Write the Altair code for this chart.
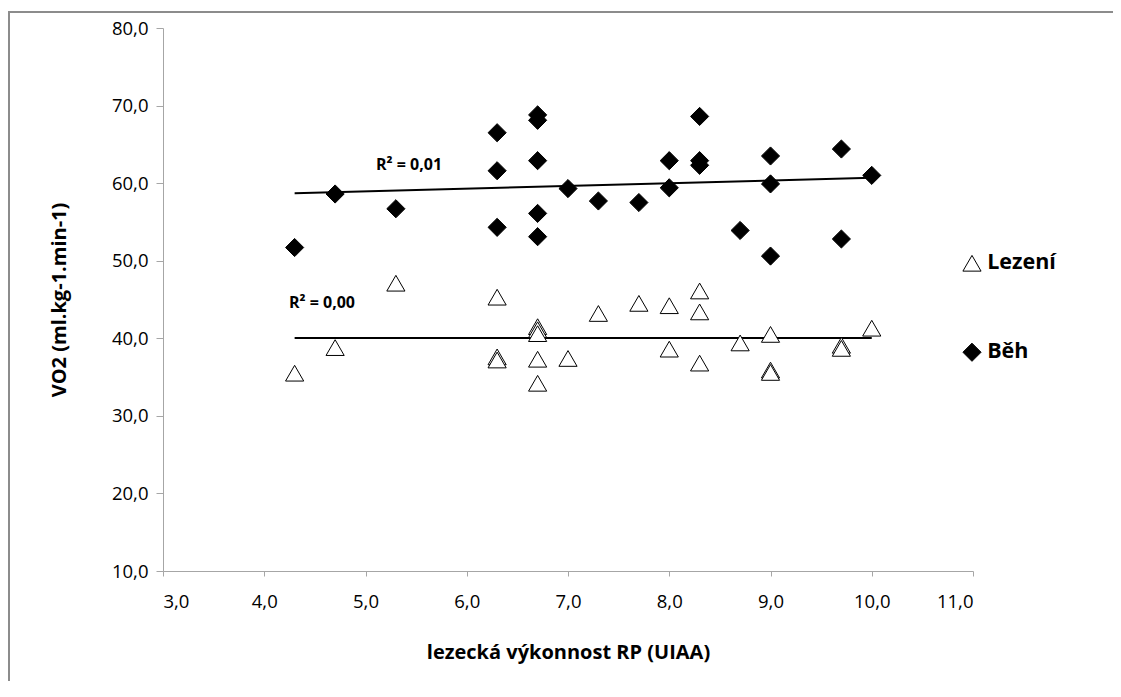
import altair as alt
import pandas as pd

# Běh (running) – filled diamonds
run_x = [4.3, 4.7, 5.3, 6.3, 6.3, 6.3, 6.7, 6.7, 6.7, 6.7, 6.7, 7.0, 7.3,
         7.7, 8.0, 8.0, 8.3, 8.3, 8.3, 8.7, 9.0, 9.0, 9.0, 9.7, 9.7, 10.0]
run_y = [51.7, 58.6, 56.7, 66.5, 61.6, 54.3, 68.8, 68.1, 62.9, 56.1, 53.1, 59.3, 57.7,
         57.5, 62.9, 59.4, 68.6, 62.9, 62.3, 53.9, 63.5, 59.9, 50.6, 64.4, 52.8, 61.0]

# Lezení (climbing) – open triangles
climb_x = [4.3, 4.7, 5.3, 6.3, 6.3, 6.3, 6.7, 6.7, 6.7, 6.7, 6.7, 7.0, 7.3,
           7.7, 8.0, 8.0, 8.3, 8.3, 8.3, 8.7, 9.0, 9.0, 9.0, 9.7, 9.7, 10.0]
climb_y = [35.5, 38.8, 47.1, 45.3, 37.6, 37.2, 41.5, 41.1, 40.6, 37.3, 34.2, 37.4, 43.2,
           44.5, 44.2, 38.6, 46.1, 43.4, 36.8, 39.4, 40.5, 35.9, 35.6, 39.1, 38.7, 41.3]

series_names = ["Lezení", "Běh"]
series_shapes = ["triangle-up", "diamond"]
series_fills = ["white", "black"]

r2_text = ["R² = 0,01", "R² = 0,00"]
r2_x = [5.43, 4.57]
r2_y = [62.4, 44.6]

# legend anchor positions (in axis units, to the right of the plot)
legend_sym_x = [10.99, 10.99]
legend_txt_x = [11.14, 11.14]
legend_y = [49.67, 38.2]

x_ticks = [3, 4, 5, 6, 7, 8, 9, 10, 11]
y_ticks = [10, 20, 30, 40, 50, 60, 70, 80]

df = pd.DataFrame({
    "x": climb_x + run_x,
    "y": climb_y + run_y,
    "series": [series_names[0]] * len(climb_x) + [series_names[1]] * len(run_x),
})
df_r2 = pd.DataFrame({"label": r2_text, "x": r2_x, "y": r2_y})
df_leg = pd.DataFrame({"series": series_names, "sx": legend_sym_x,
                       "tx": legend_txt_x, "y": legend_y})

FONT = "Open Sans"
AXIS_GRAY = "#a6a6a6"
W, H = 810, 543
MARK_SIZE = 330

xscale = alt.Scale(domain=[3, 11], nice=False, zero=False)
yscale = alt.Scale(domain=[10, 80], nice=False, zero=False)
shape_scale = alt.Scale(domain=series_names, range=series_shapes)
fill_scale = alt.Scale(domain=series_names, range=series_fills)

xaxis = alt.Axis(values=x_ticks, labelExpr="replace(format(datum.value, '.1f'), '.', ',')",
                 title="lezecká výkonnost RP (UIAA)", grid=False,
                 domainColor=AXIS_GRAY, tickColor=AXIS_GRAY, tickSize=5,
                 labelFont=FONT, labelFontSize=18.5, labelColor="#000", labelPadding=16,
                 titleFont=FONT, titleFontSize=20, titleFontWeight="bold",
                 titleColor="#000", titlePadding=32)
yaxis = alt.Axis(values=y_ticks, labelExpr="replace(format(datum.value, '.1f'), '.', ',')",
                 title="VO2 (ml.kg-1.min-1)", grid=False,
                 domainColor=AXIS_GRAY, tickColor=AXIS_GRAY, tickSize=7,
                 labelFont=FONT, labelFontSize=18.5, labelColor="#000", labelPadding=8,
                 titleFont=FONT, titleFontSize=20, titleFontWeight="bold",
                 titleColor="#000", titlePadding=42)

base = alt.Chart(df)

points = base.mark_point(filled=False, opacity=1, strokeWidth=1, stroke="black").encode(
    x=alt.X("x:Q", scale=xscale, axis=xaxis),
    y=alt.Y("y:Q", scale=yscale, axis=yaxis),
    shape=alt.Shape("series:N", scale=shape_scale, legend=None),
    fill=alt.Fill("series:N", scale=fill_scale, legend=None),
    size=alt.value(MARK_SIZE),
)

trend = base.transform_regression("x", "y", groupby=["series"]).mark_line(
    color="black", strokeWidth=2
).encode(
    x=alt.X("x:Q", scale=xscale),
    y=alt.Y("y:Q", scale=yscale),
    detail="series:N",
)

r2 = alt.Chart(df_r2).mark_text(font=FONT, fontSize=16, fontWeight="bold", color="black").encode(
    x=alt.X("x:Q", scale=xscale),
    y=alt.Y("y:Q", scale=yscale),
    text="label:N",
)

leg_sym = alt.Chart(df_leg).mark_point(opacity=1, strokeWidth=1, stroke="black",
                                        size=MARK_SIZE, clip=False).encode(
    x=alt.X("sx:Q", scale=xscale),
    y=alt.Y("y:Q", scale=yscale),
    shape=alt.Shape("series:N", scale=shape_scale, legend=None),
    fill=alt.Fill("series:N", scale=fill_scale, legend=None),
)
leg_txt = alt.Chart(df_leg).mark_text(
    align="left", baseline="middle", font=FONT, fontSize=21.5, fontWeight="bold",
    color="black", clip=False
).encode(
    x=alt.X("tx:Q", scale=xscale),
    y=alt.Y("y:Q", scale=yscale),
    text="series:N",
)

frame_top = alt.Chart(df).mark_rule(color="#8c8c8c", strokeWidth=1.5).encode(
    x=alt.value(-154.5), x2=alt.value(1000), y=alt.value(-16)
)
frame_left = alt.Chart(df).mark_rule(color="#8c8c8c", strokeWidth=1.5).encode(
    x=alt.value(-154.5), y=alt.value(-16), y2=alt.value(700)
)

chart = alt.layer(frame_top, frame_left, trend, points, r2, leg_sym, leg_txt).properties(
    width=W, height=H,
    autosize=alt.AutoSizeParams(type="none"),
    padding={"left": 155, "top": 20, "right": 140, "bottom": 110},
).configure(background="white").configure_view(stroke=None, strokeWidth=0)

chart.save("out.html", embed_options={"renderer": "svg", "actions": False})
